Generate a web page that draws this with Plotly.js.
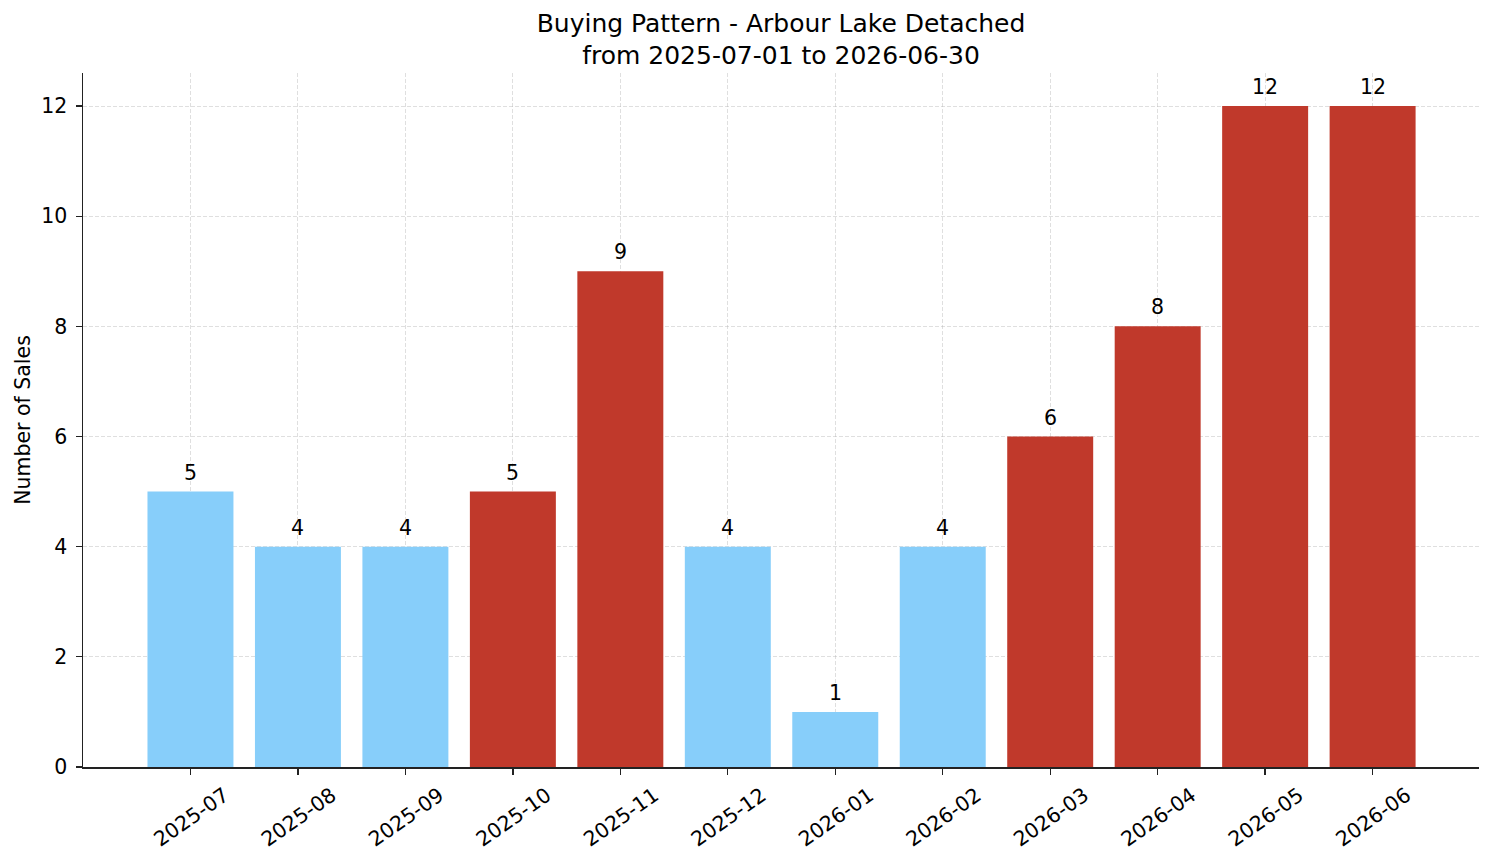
<!DOCTYPE html>
<html>
<head>
<meta charset="utf-8">
<script src="https://cdn.plot.ly/plotly-3.0.1.min.js"></script>
<style>
  html, body { margin: 0; padding: 0; background: #ffffff; }
  #chart { width: 1494px; height: 863px; }
</style>
</head>
<body>
<div id="chart"></div>
<script>
// Monthly detached sales, Arbour Lake
const months = ["2025-07", "2025-08", "2025-09", "2025-10", "2025-11", "2025-12",
                "2026-01", "2026-02", "2026-03", "2026-04", "2026-05", "2026-06"];
const sales = [5, 4, 4, 5, 9, 4, 1, 4, 6, 8, 12, 12];
// busy months are shown in red, quiet months in light blue
const busy = [false, false, false, true, true, false, false, false, true, true, true, true];
const yTicks = [0, 2, 4, 6, 8, 10, 12];

const BLUE = "#87CEFA";
const RED = "#C0392B";
const FONT = "DejaVu Sans, Liberation Sans, sans-serif";
const LABEL_SIZE = 20.5;

const xIdx = months.map((_, i) => i);

const trace = {
  type: "bar",
  x: xIdx,
  y: sales,
  width: 0.8,
  marker: { color: busy.map(b => b ? RED : BLUE), line: { width: 0 } },
  hoverinfo: "x+y"
};

// value labels sitting just above each bar
const valueLabels = sales.map((v, i) => ({
  x: i,
  y: v,
  xref: "x",
  yref: "y",
  text: String(v),
  showarrow: false,
  xanchor: "center",
  yanchor: "bottom",
  yshift: 5,
  font: { family: FONT, size: LABEL_SIZE, color: "#000000" }
}));

const layout = {
  width: 1494,
  height: 863,
  paper_bgcolor: "#ffffff",
  plot_bgcolor: "#ffffff",
  margin: { l: 83, r: 15, t: 73, b: 96 },
  showlegend: false,
  font: { family: FONT, color: "#000000" },
  title: {
    text: "Buying Pattern - Arbour Lake Detached<br>from 2025-07-01 to 2026-06-30",
    font: { family: FONT, size: 25, color: "#000000" },
    x: 0.5,
    xanchor: "center",
    xref: "paper",
    yref: "container",
    y: 0.963,
    yanchor: "top"
  },
  annotations: valueLabels,
  xaxis: {
    range: [-1.0, 11.99],
    tickmode: "array",
    tickvals: xIdx,
    ticktext: months,
    tickangle: -35,
    tickfont: { family: FONT, size: LABEL_SIZE, color: "#000000" },
    ticks: "outside",
    ticklen: 6,
    tickwidth: 1.3,
    tickcolor: "#222222",
    ticklabelshift: 34,
    ticklabelstandoff: 1,
    showline: true,
    linecolor: "#222222",
    linewidth: 1.5,
    showgrid: true,
    gridcolor: "rgba(176,176,176,0.5)",
    gridwidth: 0.8,
    griddash: "4px,2px",
    zeroline: false,
    layer: "above traces",
    fixedrange: true
  },
  yaxis: {
    range: [0, 12.6],
    tickmode: "array",
    tickvals: yTicks,
    tickfont: { family: FONT, size: LABEL_SIZE, color: "#000000" },
    ticks: "outside",
    ticklen: 6,
    tickwidth: 1.3,
    tickcolor: "#222222",
    ticklabelstandoff: 4,
    showline: true,
    linecolor: "#222222",
    linewidth: 1.5,
    showgrid: true,
    gridcolor: "rgba(176,176,176,0.5)",
    gridwidth: 0.8,
    griddash: "4px,2px",
    zeroline: false,
    layer: "above traces",
    title: {
      text: "Number of Sales",
      font: { family: FONT, size: LABEL_SIZE, color: "#000000" },
      standoff: 5
    },
    fixedrange: true
  }
};

Plotly.newPlot("chart", [trace], layout, { displayModeBar: false, staticPlot: true });
</script>
</body>
</html>
